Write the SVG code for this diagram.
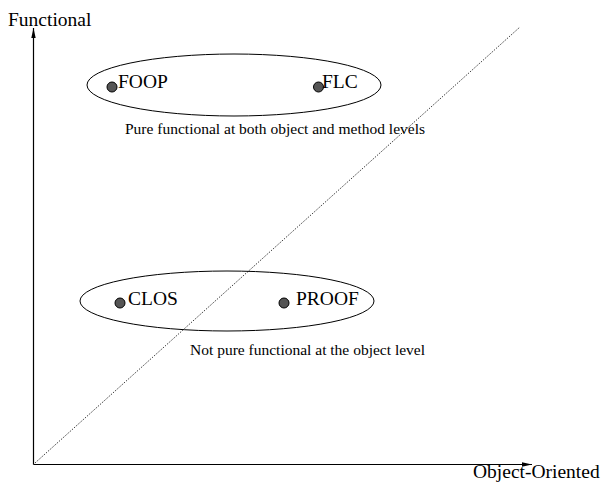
<svg xmlns="http://www.w3.org/2000/svg" width="602" height="482" viewBox="0 0 602 482">
  <style>
    .label { font-family: "Liberation Serif", "Times New Roman", serif; font-size: 19.5px; fill: #000; }
    .caption { font-family: "Liberation Serif", "Times New Roman", serif; font-size: 15.5px; fill: #000; }
    .group { fill: none; stroke: #000; stroke-width: 1; }
    .dot { fill: #555; stroke: #000; stroke-width: 1; }
    .axis { fill: none; stroke: #000; stroke-width: 1.2; }
  </style>
  <defs>
    <marker id="arrow" markerWidth="10" markerHeight="6" refX="10" refY="3" orient="auto" markerUnits="userSpaceOnUse">
      <path d="M0,0.8 L10,3 L0,5.2 Z" fill="#000"/>
    </marker>
  </defs>
  <rect width="602" height="482" fill="#fff"/>

  <!-- axes and diagonal -->
  <g id="connectors">
    <line class="axis" x1="33.5" y1="464.5" x2="33.5" y2="28" marker-end="url(#arrow)"/>
    <line class="axis" x1="33.5" y1="464.5" x2="532" y2="464.5" marker-end="url(#arrow)"/>
    <line x1="35" y1="463" x2="520" y2="27" stroke="#000" stroke-width="1" stroke-dasharray="1 1.5"/>
  </g>

  <!-- axis titles -->
  <g id="axis-functional">
    <text class="label" x="8" y="26">Functional</text>
  </g>
  <g id="axis-object-oriented">
    <text class="label" x="473" y="477.5">Object-Oriented</text>
  </g>

  <!-- pure functional group -->
  <g id="group-pure">
    <ellipse class="group" cx="234" cy="85" rx="147" ry="31"/>
    <text class="caption" x="125" y="134">Pure functional at both object and method levels</text>
  </g>
  <g id="node-foop">
    <circle class="dot" cx="112" cy="87" r="5"/>
    <text class="label" x="118" y="88">FOOP</text>
  </g>
  <g id="node-flc">
    <circle class="dot" cx="318.5" cy="87" r="5"/>
    <text class="label" x="322" y="88">FLC</text>
  </g>

  <!-- not pure functional group -->
  <g id="group-not-pure">
    <ellipse class="group" cx="227" cy="301" rx="147" ry="30"/>
    <text class="caption" x="190" y="355">Not pure functional at the object level</text>
  </g>
  <g id="node-clos">
    <circle class="dot" cx="120" cy="303" r="5"/>
    <text class="label" x="128" y="305">CLOS</text>
  </g>
  <g id="node-proof">
    <circle class="dot" cx="284" cy="303" r="5"/>
    <text class="label" x="296" y="305">PROOF</text>
  </g>
</svg>
